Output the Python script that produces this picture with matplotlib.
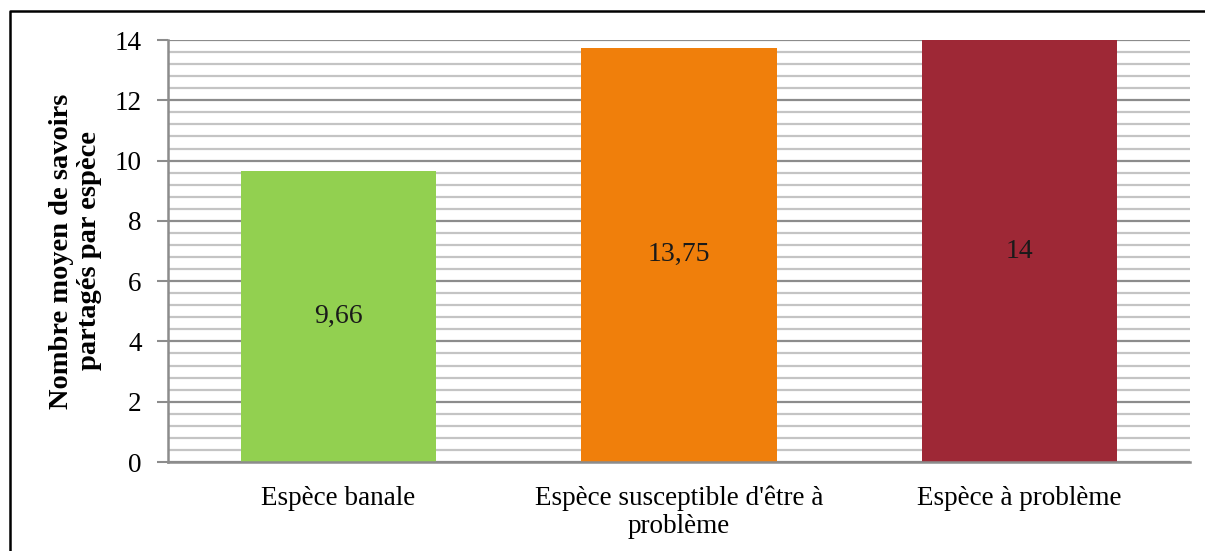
import matplotlib
matplotlib.use("Agg")
import matplotlib.pyplot as plt
from matplotlib.lines import Line2D
from matplotlib.ticker import MultipleLocator

categories = ["Espèce banale", "Espèce susceptible d'être à\nproblème", "Espèce à problème"]
values = [9.66, 13.75, 14]
labels = ["9,66", "13,75", "14"]
colors = ["#92D050", "#F07F0B", "#9E2836"]

plt.rcParams['font.family'] = ['Liberation Serif', 'DejaVu Serif']

W, H = 1205, 551
fig = plt.figure(figsize=(W/100, H/100), dpi=100)
ax = fig.add_axes([168/W, 1-462/H, (1190-168)/W, (462-40)/H])

x = range(len(categories))
bars = ax.bar(x, values, width=0.573, color=colors, zorder=3)
for xi, v, lab in zip(x, values, labels):
    ax.text(xi, v/2, lab, ha='center', va='center', fontsize=20, color='#1a1a1a', zorder=4)

ax.set_xlim(-0.5, 2.5)
ax.set_ylim(0, 14)
ax.yaxis.set_major_locator(MultipleLocator(2))
ax.yaxis.set_minor_locator(MultipleLocator(0.4))
ax.grid(axis='y', which='major', color='#8c8c8c', linewidth=1.6, zorder=1)
ax.grid(axis='y', which='minor', color='#c4c4c4', linewidth=1.6, zorder=1)
ax.set_xticks(list(x))
ax.set_xticklabels(categories, fontsize=19.5, linespacing=1.15)
ax.tick_params(axis='x', length=0, pad=17)
ax.tick_params(axis='y', which='major', length=8, width=1.5, color='#8c8c8c', labelsize=19.5, pad=11)
ax.tick_params(axis='y', which='minor', length=0)
for s in ['top', 'right']:
    ax.spines[s].set_visible(False)
for s in ['left', 'bottom']:
    ax.spines[s].set_color('#8c8c8c')
    ax.spines[s].set_linewidth(1.8)
    ax.spines[s].set_zorder(5)

ax.set_ylabel("Nombre moyen de savoirs\npartagés par espèce", fontsize=20.5, fontweight='bold', labelpad=9, linespacing=1.18)

# outer border
fig.add_artist(Line2D([10/W, 10/W, 1.0], [0, 1-11/H, 1-11/H], transform=fig.transFigure, color='black', linewidth=1.8))

fig.savefig("out.png", dpi=100)
